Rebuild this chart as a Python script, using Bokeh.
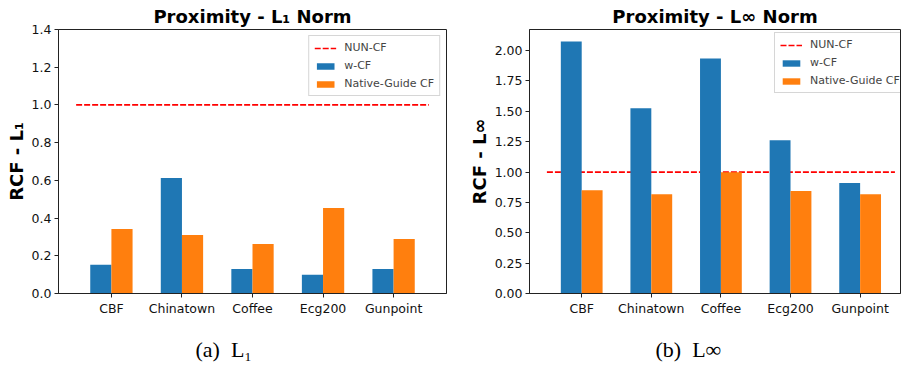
from bokeh.plotting import figure
from bokeh.models import (ColumnDataSource, FixedTicker, Legend, LegendItem, Title,
                          Range1d, NumeralTickFormatter)
from bokeh.transform import dodge
from bokeh.layouts import row
from bokeh.embed import file_html
from bokeh.resources import INLINE

categories = ["CBF", "Chinatown", "Coffee", "Ecg200", "Gunpoint"]
l1_wcf = [0.152, 0.612, 0.130, 0.099, 0.130]
l1_native = [0.342, 0.310, 0.263, 0.453, 0.289]
linf_wcf = [2.075, 1.525, 1.935, 1.262, 0.909]
linf_native = [0.851, 0.818, 0.998, 0.843, 0.818]
nun_cf_value = 1.0
l1_yticks = [0.0, 0.2, 0.4, 0.6, 0.8, 1.0, 1.2, 1.4]
linf_yticks = [0.0, 0.25, 0.5, 0.75, 1.0, 1.25, 1.5, 1.75, 2.0]

BLUE = "#1f77b4"
ORANGE = "#ff7f0e"
FONT = "DejaVu Sans"


def make_panel(title, ylabel, caption, wcf, native, y_end, yticks, fmt,
               width, mbl, mbr, x_end, legend_loc, title_offset, cap_offset):
    n = len(categories)
    src = ColumnDataSource(dict(x=list(range(n)), wcf=wcf, native=native))
    p = figure(width=width, height=377, output_backend="svg", toolbar_location=None,
               x_range=Range1d(-0.75, x_end), y_range=Range1d(0, y_end),
               min_border_left=mbl, min_border_right=mbr, min_border_top=29,
               min_border_bottom=83)
    p.title = Title(text=title, align="center", text_font=FONT, text_font_size="18px",
                    text_font_style="bold", standoff=6, offset=title_offset,
                    text_color="black")
    p.add_layout(Title(text=caption, align="left", text_font="Liberation Serif",
                       text_font_size="22px", text_font_style="normal",
                       offset=cap_offset, standoff=32, text_color="black"), "below")
    p.xgrid.visible = False
    p.ygrid.visible = False
    p.outline_line_color = "#222222"
    p.outline_line_width = 1
    p.background_fill_color = "white"
    p.border_fill_color = "white"

    nun = p.line(x=[-0.5, n - 1 + 0.5], y=[nun_cf_value, nun_cf_value],
                 line_color="red", line_width=1.7, line_dash="6 2")
    b1 = p.vbar(x=dodge("x", -0.15, range=p.x_range), top="wcf", width=0.3,
                source=src, fill_color=BLUE, line_color=None)
    b2 = p.vbar(x=dodge("x", 0.15, range=p.x_range), top="native", width=0.3,
                source=src, fill_color=ORANGE, line_color=None)

    p.xaxis.ticker = FixedTicker(ticks=list(range(n)))
    p.xaxis.major_label_overrides = {i: c for i, c in enumerate(categories)}
    p.yaxis.ticker = FixedTicker(ticks=yticks)
    p.yaxis.formatter = NumeralTickFormatter(format=fmt)
    for ax in (p.xaxis[0], p.yaxis[0]):
        ax.major_tick_out = 4
        ax.major_tick_in = 0
        ax.minor_tick_line_color = None
        ax.axis_line_color = "#222222"
        ax.major_tick_line_color = "#222222"
        ax.major_label_text_font = FONT
        ax.major_label_text_font_size = "12.5px"
        ax.major_label_text_color = "#111111"
        ax.major_label_standoff = 3
    p.yaxis.axis_label = ylabel
    p.yaxis.axis_label_text_font = FONT
    p.yaxis.axis_label_text_font_size = "18px"
    p.yaxis.axis_label_text_font_style = "bold"
    p.yaxis.axis_label_text_color = "black"
    p.yaxis.axis_label_standoff = 2

    legend = Legend(items=[LegendItem(label="NUN-CF", renderers=[nun]),
                           LegendItem(label="w-CF", renderers=[b1]),
                           LegendItem(label="Native-Guide CF", renderers=[b2])],
                    location=legend_loc, margin=6, padding=5, spacing=5,
                    glyph_width=22, glyph_height=8, label_height=12,
                    label_standoff=8, label_text_font=FONT, label_text_font_size="11px",
                    border_line_color="#cccccc", border_line_alpha=0.8,
                    background_fill_alpha=0.8)
    p.add_layout(legend, "center")
    return p


p1 = make_panel("Proximity - L\u2081 Norm", "RCF - L\u2081", "(a)\u2002L\u2081",
                l1_wcf, l1_native, 1.4, l1_yticks, "0.0",
                460, 58, 14, 4.75, "top_right", 0, 137)
p2 = make_panel("Proximity - L\u221e Norm", "RCF - L\u221e", "(b)\u2002L\u221e",
                linf_wcf, linf_native, 2.1735, linf_yticks, "0.00",
                441, 69, 1, 4.58, (245, 200), 6, 126)

layout = row(p1, p2)
open("out.html", "w").write(file_html(layout, INLINE))
